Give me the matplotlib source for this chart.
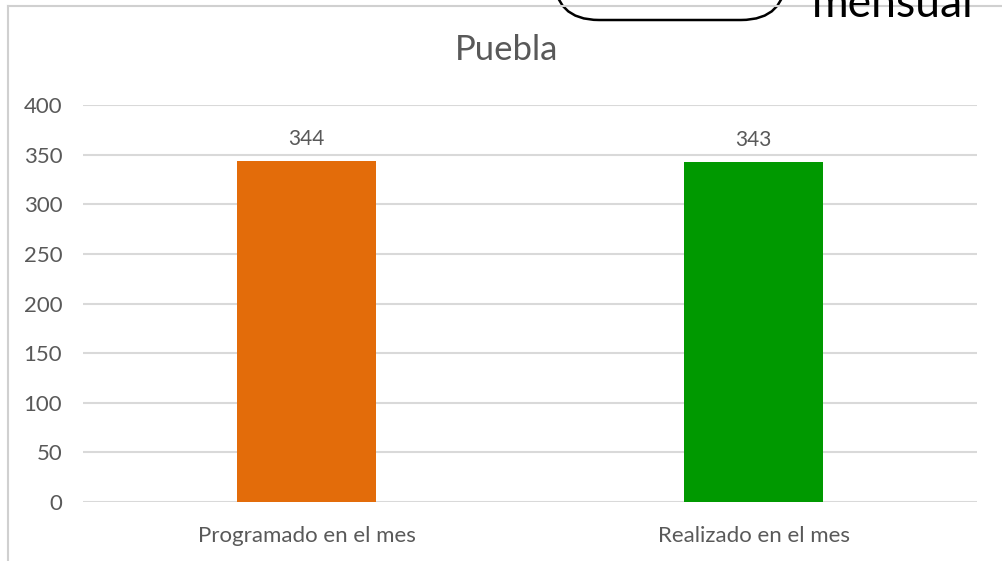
import matplotlib
matplotlib.use("Agg")
import matplotlib.pyplot as plt
from matplotlib.patches import FancyBboxPatch
from matplotlib.lines import Line2D

categorias = ["Programado en el mes", "Realizado en el mes"]
valores = [344, 343]
colores = ["#E36C0A", "#009900"]
titulo = "Puebla"

plt.rcParams['font.family'] = ['Lato', 'DejaVu Sans']
gris = "#595959"

fig = plt.figure(figsize=(10.02, 5.61), dpi=100)
W, H = 1002, 561
ax = fig.add_axes([83 / W, 1 - 502 / H, (977 - 83) / W, (502 - 105) / H])

x = range(len(categorias))
ax.bar(x, valores, width=0.31, color=colores, zorder=3)
for xi, v in zip(x, valores):
    ax.text(xi, v + 12, str(v), ha="center", va="bottom", fontsize=15, color=gris)

ax.set_xlim(-0.5, 1.5)
ax.set_ylim(0, 400)
ax.set_yticks(range(0, 401, 50))
ax.set_xticks(list(x))
ax.set_xticklabels(categorias)
ax.tick_params(axis="both", length=0, labelsize=16, colors=gris)
ax.tick_params(axis="x", pad=17)
ax.tick_params(axis="y", pad=15)
ax.grid(axis="y", color="#d9d9d9", linewidth=1.5, zorder=0)
for s in ax.spines.values():
    s.set_visible(False)

fig.text(507 / W, 1 - 50 / H, titulo, ha="center", va="center", fontsize=25, color=gris)

# marco del grafico y recorte de la diapositiva
fig.add_artist(Line2D([8 / W, 8 / W], [0, 1 - 6 / H], color="#d0d0d0", linewidth=1.5))
fig.add_artist(Line2D([8 / W, 1], [1 - 6 / H, 1 - 6 / H], color="#d0d0d0", linewidth=1.5))
fig.add_artist(FancyBboxPatch((554 / W, 1 - 20 / H), (786 - 554) / W, 80 / H,
                              boxstyle="round,pad=0.0,rounding_size=0.045",
                              transform=fig.transFigure, facecolor="white",
                              edgecolor="black", linewidth=1.8, mutation_aspect=W / H))
fig.text(812 / W, 1 - 17 / H, "mensual", ha="left", va="baseline", fontsize=32, color="black")

fig.savefig("out.png", dpi=100)
